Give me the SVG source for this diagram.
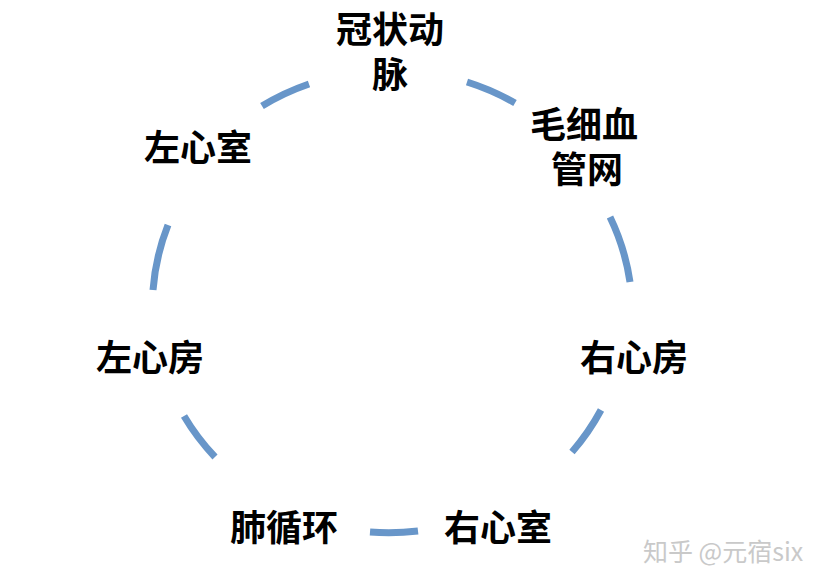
<svg xmlns="http://www.w3.org/2000/svg" width="822" height="585" viewBox="0 0 822 585">
<style>
.lbl{font-family:"Noto Sans CJK SC","Noto Sans",sans-serif;font-weight:bold;font-size:36px;fill:#000;text-anchor:middle}
.arc{fill:none;stroke:#6896c9;stroke-width:7}
.wm{font-family:"Noto Sans CJK SC","Noto Sans",sans-serif;font-size:25px;fill:#c9c9c9}
</style>
<rect width="822" height="585" fill="#fff"/>
<g id="connectors">
<path class="arc" d="M262,106 A240,231 0 0 1 309,84"/>
<path class="arc" d="M467,82 A240,231 0 0 1 515,103"/>
<path class="arc" d="M610,217 A240,231 0 0 1 630,282"/>
<path class="arc" d="M601,410 A240,231 0 0 1 572,452"/>
<path class="arc" d="M418,531 A240,231 0 0 1 370,532"/>
<path class="arc" d="M215,457 A240,231 0 0 1 184,416"/>
<path class="arc" d="M153,290 A240,231 0 0 1 168,225"/>
</g>
<g id="node-coronary"><text class="lbl"><tspan x="390" y="43">冠状动</tspan><tspan x="390" y="88">脉</tspan></text></g>
<g id="node-capillary"><text class="lbl"><tspan x="584" y="138">毛细血</tspan><tspan x="587" y="183">管网</tspan></text></g>
<g id="node-right-atrium"><text class="lbl" x="634" y="371">右心房</text></g>
<g id="node-right-ventricle"><text class="lbl" x="498" y="541">右心室</text></g>
<g id="node-pulmonary"><text class="lbl" x="284" y="541">肺循环</text></g>
<g id="node-left-atrium"><text class="lbl" x="150" y="371">左心房</text></g>
<g id="node-left-ventricle"><text class="lbl" x="198" y="161">左心室</text></g>
<text class="wm" x="643" y="561">知乎 @元宿six</text>
</svg>
